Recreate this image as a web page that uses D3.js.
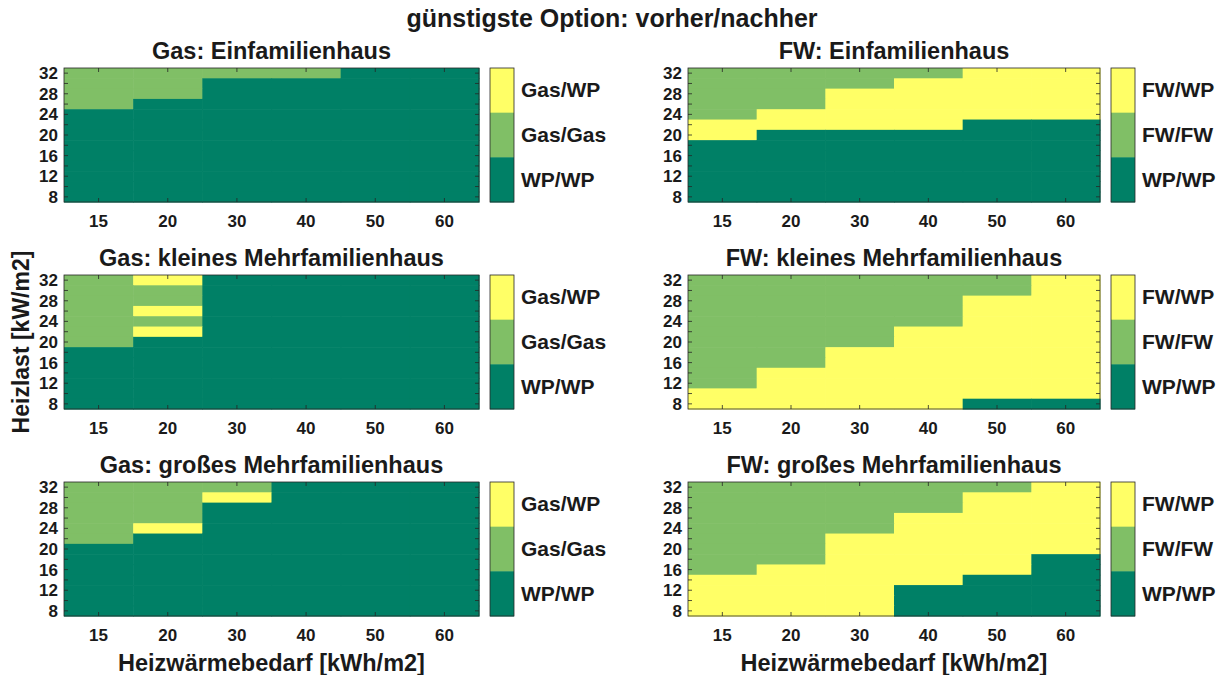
<!DOCTYPE html>
<html>
<head>
<meta charset="utf-8">
<script src="https://cdn.jsdelivr.net/npm/d3@7"></script>
<style>
    body { margin: 0; background: #fff; }
    text { font-family: "Liberation Sans", Arial, sans-serif; font-weight: bold; fill: #1a1a1a; }
</style>
</head>
<body>
<div id="svg-container"></div>
<script>
// Heizwärmebedarf [kWh/m2] columns, Heizlast [kW/m2] rows (top to bottom)
var xValues = [15, 20, 30, 40, 50, 60];
var yValues = [32, 30, 28, 26, 24, 22, 20, 18, 16, 14, 12, 10, 8];
var yTickLabels = [32, 28, 24, 20, 16, 12, 8];

// 1 = WP/WP, 2 = Gas/Gas bzw. FW/FW, 3 = Gas/WP bzw. FW/WP
var gasLegend = ['WP/WP', 'Gas/Gas', 'Gas/WP'];
var fwLegend = ['WP/WP', 'FW/FW', 'FW/WP'];
var colors = ['#008066', '#80bf66', '#ffff66'];

var gasEinfamilienhaus = [
    [2, 2, 2, 2, 1, 1],
    [2, 2, 1, 1, 1, 1],
    [2, 2, 1, 1, 1, 1],
    [2, 1, 1, 1, 1, 1],
    [1, 1, 1, 1, 1, 1],
    [1, 1, 1, 1, 1, 1],
    [1, 1, 1, 1, 1, 1],
    [1, 1, 1, 1, 1, 1],
    [1, 1, 1, 1, 1, 1],
    [1, 1, 1, 1, 1, 1],
    [1, 1, 1, 1, 1, 1],
    [1, 1, 1, 1, 1, 1],
    [1, 1, 1, 1, 1, 1]
];

var gasKleinesMfh = [
    [2, 3, 1, 1, 1, 1],
    [2, 2, 1, 1, 1, 1],
    [2, 2, 1, 1, 1, 1],
    [2, 3, 1, 1, 1, 1],
    [2, 2, 1, 1, 1, 1],
    [2, 3, 1, 1, 1, 1],
    [2, 1, 1, 1, 1, 1],
    [1, 1, 1, 1, 1, 1],
    [1, 1, 1, 1, 1, 1],
    [1, 1, 1, 1, 1, 1],
    [1, 1, 1, 1, 1, 1],
    [1, 1, 1, 1, 1, 1],
    [1, 1, 1, 1, 1, 1]
];

var gasGrossesMfh = [
    [2, 2, 2, 1, 1, 1],
    [2, 2, 3, 1, 1, 1],
    [2, 2, 1, 1, 1, 1],
    [2, 2, 1, 1, 1, 1],
    [2, 3, 1, 1, 1, 1],
    [2, 1, 1, 1, 1, 1],
    [1, 1, 1, 1, 1, 1],
    [1, 1, 1, 1, 1, 1],
    [1, 1, 1, 1, 1, 1],
    [1, 1, 1, 1, 1, 1],
    [1, 1, 1, 1, 1, 1],
    [1, 1, 1, 1, 1, 1],
    [1, 1, 1, 1, 1, 1]
];

var fwEinfamilienhaus = [
    [2, 2, 2, 2, 3, 3],
    [2, 2, 2, 3, 3, 3],
    [2, 2, 3, 3, 3, 3],
    [2, 2, 3, 3, 3, 3],
    [2, 3, 3, 3, 3, 3],
    [3, 3, 3, 3, 1, 1],
    [3, 1, 1, 1, 1, 1],
    [1, 1, 1, 1, 1, 1],
    [1, 1, 1, 1, 1, 1],
    [1, 1, 1, 1, 1, 1],
    [1, 1, 1, 1, 1, 1],
    [1, 1, 1, 1, 1, 1],
    [1, 1, 1, 1, 1, 1]
];

var fwKleinesMfh = [
    [2, 2, 2, 2, 2, 3],
    [2, 2, 2, 2, 2, 3],
    [2, 2, 2, 2, 3, 3],
    [2, 2, 2, 2, 3, 3],
    [2, 2, 2, 2, 3, 3],
    [2, 2, 2, 3, 3, 3],
    [2, 2, 2, 3, 3, 3],
    [2, 2, 3, 3, 3, 3],
    [2, 2, 3, 3, 3, 3],
    [2, 3, 3, 3, 3, 3],
    [2, 3, 3, 3, 3, 3],
    [3, 3, 3, 3, 3, 3],
    [3, 3, 3, 3, 1, 1]
];

var fwGrossesMfh = [
    [2, 2, 2, 2, 2, 3],
    [2, 2, 2, 2, 3, 3],
    [2, 2, 2, 2, 3, 3],
    [2, 2, 2, 3, 3, 3],
    [2, 2, 2, 3, 3, 3],
    [2, 2, 3, 3, 3, 3],
    [2, 2, 3, 3, 3, 3],
    [2, 2, 3, 3, 3, 1],
    [2, 3, 3, 3, 3, 1],
    [3, 3, 3, 3, 1, 1],
    [3, 3, 3, 1, 1, 1],
    [3, 3, 3, 1, 1, 1],
    [3, 3, 3, 1, 1, 1]
];

;(function () {

    var width = 1225
        , height = 675
        , svg
        , plotHeight = 134
        , columns = [{ left: 64, right: 479, bar: 490 }, { left: 688, right: 1100, bar: 1111 }]
        , rowTops = [68, 275, 482]
        , barWidth = 24
        , axisColor = '#262626';

    var panels = [
        { title: 'Gas: Einfamilienhaus', grid: gasEinfamilienhaus, legend: gasLegend, col: 0, row: 0 },
        { title: 'FW: Einfamilienhaus', grid: fwEinfamilienhaus, legend: fwLegend, col: 1, row: 0 },
        { title: 'Gas: kleines Mehrfamilienhaus', grid: gasKleinesMfh, legend: gasLegend, col: 0, row: 1 },
        { title: 'FW: kleines Mehrfamilienhaus', grid: fwKleinesMfh, legend: fwLegend, col: 1, row: 1 },
        { title: 'Gas: großes Mehrfamilienhaus', grid: gasGrossesMfh, legend: gasLegend, col: 0, row: 2 },
        { title: 'FW: großes Mehrfamilienhaus', grid: fwGrossesMfh, legend: fwLegend, col: 1, row: 2 }
    ];

    var color = d3.scaleOrdinal().domain([1, 2, 3]).range(colors);

    function drawPanel(p) {
        var c = columns[p.col]
            , top = rowTops[p.row]
            , bottom = top + plotHeight;

        var x = d3.scaleBand().domain(xValues).range([c.left, c.right]);
        var y = d3.scaleBand().domain(yValues).range([top, bottom]);

        var g = svg.append('g').attr('class', 'panel');

        var cells = [];
        p.grid.forEach(function (row, i) {
            row.forEach(function (v, j) {
                cells.push({ x: xValues[j], y: yValues[i], v: v });
            });
        });

        // slight overlap so no hairlines show between cells
        g.selectAll('.cell')
            .data(cells)
            .enter().append('rect')
            .attr('class', 'cell')
            .attr('x', function (d) { return x(d.x); })
            .attr('y', function (d) { return y(d.y); })
            .attr('width', x.bandwidth() + 0.6)
            .attr('height', y.bandwidth() + 0.6)
            .attr('fill', function (d) { return color(d.v); });

        // ticks inside the box, all four sides
        var ticks = g.append('g');
        xValues.forEach(function (v) {
            var cx = x(v) + x.bandwidth() / 2;
            ticks.append('line').attr('x1', cx).attr('x2', cx).attr('y1', bottom).attr('y2', bottom - 4);
            ticks.append('line').attr('x1', cx).attr('x2', cx).attr('y1', top).attr('y2', top + 4);
        });
        yValues.forEach(function (v) {
            var cy = y(v) + y.bandwidth() / 2;
            ticks.append('line').attr('x1', c.left).attr('x2', c.left + 4).attr('y1', cy).attr('y2', cy);
            ticks.append('line').attr('x1', c.right).attr('x2', c.right - 4).attr('y1', cy).attr('y2', cy);
        });
        ticks.selectAll('line').attr('stroke', axisColor).attr('stroke-width', 0.8);

        g.append('rect')
            .attr('x', c.left).attr('y', top)
            .attr('width', c.right - c.left).attr('height', plotHeight)
            .attr('fill', 'none').attr('stroke', axisColor).attr('stroke-width', 0.8);

        g.selectAll('.xlabel')
            .data(xValues)
            .enter().append('text')
            .attr('x', function (d) { return x(d) + x.bandwidth() / 2; })
            .attr('y', bottom + 25)
            .attr('text-anchor', 'middle')
            .style('font-size', '17px')
            .text(function (d) { return d; });

        g.selectAll('.ylabel')
            .data(yTickLabels)
            .enter().append('text')
            .attr('x', c.left - 6)
            .attr('y', function (d) { return y(d) + y.bandwidth() / 2 + 6; })
            .attr('text-anchor', 'end')
            .style('font-size', '17px')
            .text(function (d) { return d; });

        g.append('text')
            .attr('x', (c.left + c.right) / 2)
            .attr('y', top - 9)
            .attr('text-anchor', 'middle')
            .style('font-size', '23.5px')
            .text(p.title);

        // colorbar
        var bar = d3.scaleBand().domain([3, 2, 1]).range([top, bottom]);
        g.selectAll('.seg')
            .data([3, 2, 1])
            .enter().append('rect')
            .attr('x', c.bar)
            .attr('y', function (d) { return bar(d); })
            .attr('width', barWidth)
            .attr('height', bar.bandwidth() + 0.5)
            .attr('fill', function (d) { return color(d); });
        g.append('rect')
            .attr('x', c.bar).attr('y', top)
            .attr('width', barWidth).attr('height', plotHeight)
            .attr('fill', 'none').attr('stroke', axisColor).attr('stroke-width', 0.8);
        g.selectAll('.leg')
            .data([3, 2, 1])
            .enter().append('text')
            .attr('x', c.bar + barWidth + 7)
            .attr('y', function (d) { return bar(d) + bar.bandwidth() / 2 + 7; })
            .style('font-size', '21px')
            .text(function (d) { return p.legend[d - 1]; });
    }

    function initialize() {
        svg = d3.select('#svg-container').append('svg')
            .attr('width', width)
            .attr('height', height);

        panels.forEach(drawPanel);

        svg.append('text')
            .attr('x', 612)
            .attr('y', 27)
            .attr('text-anchor', 'middle')
            .style('font-size', '25px')
            .text('günstigste Option: vorher/nachher');

        svg.append('text')
            .attr('transform', 'translate(29,' + (rowTops[1] + plotHeight / 2) + ') rotate(-90)')
            .attr('text-anchor', 'middle')
            .style('font-size', '23px')
            .text('Heizlast [kW/m2]');

        columns.forEach(function (c) {
            svg.append('text')
                .attr('x', (c.left + c.right) / 2)
                .attr('y', 671)
                .attr('text-anchor', 'middle')
                .style('font-size', '23.5px')
                .text('Heizwärmebedarf [kWh/m2]');
        });
    }

    initialize();

}());
</script>
</body>
</html>
